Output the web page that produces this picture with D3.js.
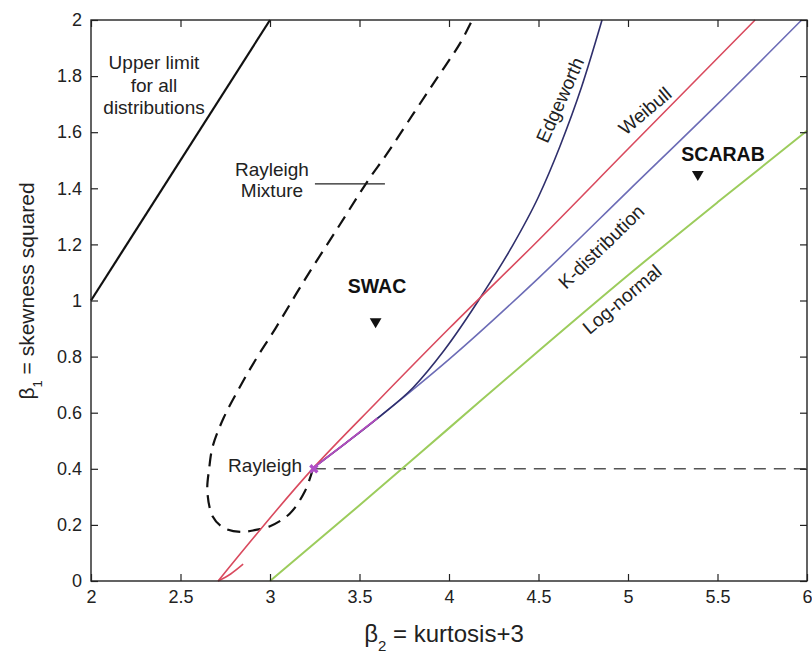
<!DOCTYPE html>
<html>
<head>
<meta charset="utf-8">
<script src="https://cdn.jsdelivr.net/npm/d3@7"></script>
<style>
  html, body { margin: 0; padding: 0; background: #fff; }
  svg { display: block; font-family: "Liberation Sans", Arial, Helvetica, sans-serif; }
</style>
</head>
<body>
<svg id="chart" width="812" height="654"></svg>
<script>
// beta2 (kurtosis+3), beta1 (skewness squared) pairs
const upperLimit = [[2, 1], [3, 2]];
const weibull = [[2.71, 0], [3.245, 0.405], [3.6, 0.64], [4.0, 0.9], [4.5, 1.215], [5.0, 1.54], [5.71, 2.0]];
const weibullLower = [[2.71, 0], [2.78, 0.025], [2.85, 0.06]];
const kDistribution = [[3.245, 0.405], [3.6, 0.58], [4.0, 0.79], [4.5, 1.08], [5.0, 1.39], [5.5, 1.7], [5.97, 2.0]];
const edgeworth = [[3.245, 0.405], [3.42, 0.49], [3.6, 0.58], [3.8, 0.69], [3.97, 0.82], [4.19, 1.025],
  [4.35, 1.19], [4.5, 1.37], [4.62, 1.55], [4.74, 1.76], [4.855, 2.0]];
const sharedStart = [[3.245, 0.405], [3.42, 0.49], [3.6, 0.58]];
const logNormal = [[3, 0], [3.5, 0.27], [4, 0.545], [4.5, 0.82], [5, 1.09], [5.5, 1.35], [6, 1.605]];
const rayleighMixture = [[3.24, 0.4], [3.195, 0.32], [3.11, 0.24], [3.0, 0.195], [2.92, 0.182], [2.84, 0.175],
  [2.74, 0.19], [2.68, 0.23], [2.65, 0.32], [2.66, 0.4], [2.68, 0.48], [2.74, 0.58], [2.83, 0.69], [2.93, 0.8],
  [3.03, 0.9], [3.2, 1.08], [3.38, 1.26], [3.55, 1.43], [3.65, 1.52], [3.8, 1.665], [3.93, 1.79], [4.06, 1.915], [4.13, 2.0]];
const rayleighLevel = [[3.245, 0.4], [6, 0.4]];
const rayleighPoint = [3.245, 0.4];
const measurements = [
  { name: "SWAC", b2: 3.59, b1: 0.925, lb2: 3.598, lb1: 1.025 },
  { name: "SCARAB", b2: 5.39, b1: 1.45, lb2: 5.531, lb1: 1.498 },
];
const xTicks = [2, 2.5, 3, 3.5, 4, 4.5, 5, 5.5, 6];
const yTicks = [0, 0.2, 0.4, 0.6, 0.8, 1, 1.2, 1.4, 1.6, 1.8, 2];

// curve labels: centre position in data units and rotation
const curveLabels = [
  { text: "Edgeworth", b2: 4.62, b1: 1.715, angle: -66 },
  { text: "Weibull", b2: 5.095, b1: 1.676, angle: -40 },
  { text: "K-distribution", b2: 4.85, b1: 1.192, angle: -44 },
  { text: "Log-normal", b2: 4.966, b1: 1.004, angle: -40 },
];

const W = 812, H = 654;
const margin = { top: 20, right: 5, bottom: 73, left: 91 };
const labelSize = "19px";

const svg = d3.select("#chart");
const x = d3.scaleLinear().domain([2, 6]).range([margin.left, W - margin.right]);
const y = d3.scaleLinear().domain([0, 2]).range([H - margin.bottom, margin.top]);
const fmt = (d) => String(+d.toFixed(1));

const line = d3.line().x((d) => x(d[0])).y((d) => y(d[1]));
const smooth = d3.line().x((d) => x(d[0])).y((d) => y(d[1])).curve(d3.curveMonotoneX);
const loop = d3.line().x((d) => x(d[0])).y((d) => y(d[1])).curve(d3.curveCatmullRom.alpha(0.5));

const plot = svg.append("g");

// Curves
plot.append("path").datum(upperLimit).attr("d", line)
  .attr("fill", "none").attr("stroke", "#111").attr("stroke-width", 2.2);

plot.append("path").datum(rayleighMixture).attr("d", loop)
  .attr("fill", "none").attr("stroke", "#111").attr("stroke-width", 2.2)
  .attr("stroke-dasharray", "13,8");

plot.append("path").datum(rayleighLevel).attr("d", line)
  .attr("fill", "none").attr("stroke", "#555").attr("stroke-width", 1.4)
  .attr("stroke-dasharray", "12,8");

plot.append("path").datum(logNormal).attr("d", smooth)
  .attr("fill", "none").attr("stroke", "#9ccc5c").attr("stroke-width", 2);

plot.append("path").datum(kDistribution).attr("d", smooth)
  .attr("fill", "none").attr("stroke", "#6c6cb6").attr("stroke-width", 1.6);

plot.append("path").datum(edgeworth).attr("d", smooth)
  .attr("fill", "none").attr("stroke", "#2f2f6c").attr("stroke-width", 1.6);

plot.append("path").datum(weibull).attr("d", smooth)
  .attr("fill", "none").attr("stroke", "#d94a5e").attr("stroke-width", 1.6);

plot.append("path").datum(weibullLower).attr("d", smooth)
  .attr("fill", "none").attr("stroke", "#d94a5e").attr("stroke-width", 1.6);

plot.append("path").datum(sharedStart).attr("d", smooth)
  .attr("fill", "none").attr("stroke", "#b24cbc").attr("stroke-width", 1.8);

// Rayleigh marker
plot.append("path")
  .attr("d", d3.symbol(d3.symbolCross, 55)())
  .attr("transform", `translate(${x(rayleighPoint[0])},${y(rayleighPoint[1])}) rotate(45)`)
  .attr("fill", "#b050c8");

// Measurement markers
measurements.forEach((m) => {
  plot.append("path")
    .attr("d", d3.symbol(d3.symbolTriangle, 60)())
    .attr("transform", `translate(${x(m.b2)},${y(m.b1)}) rotate(180)`)
    .attr("fill", "#111");
  plot.append("text")
    .attr("x", x(m.lb2)).attr("y", y(m.lb1))
    .attr("text-anchor", "middle")
    .attr("font-size", "19.5px").attr("font-weight", "bold").attr("fill", "#111")
    .text(m.name);
});

// Curve labels
curveLabels.forEach((c) => {
  plot.append("text")
    .attr("transform", `translate(${x(c.b2)},${y(c.b1)}) rotate(${c.angle})`)
    .attr("text-anchor", "middle").attr("dy", "0.35em")
    .attr("font-size", labelSize).attr("fill", "#222")
    .text(c.text);
});

// Upper limit annotation
const upper = plot.append("text").attr("text-anchor", "middle")
  .attr("font-size", labelSize).attr("fill", "#222");
[["Upper limit", 1.826], ["for all", 1.744], ["distributions", 1.665]].forEach(([t, b1]) => {
  upper.append("tspan").attr("x", x(2.352)).attr("y", y(b1)).text(t);
});

// Rayleigh mixture annotation
const mix = plot.append("text").attr("text-anchor", "middle")
  .attr("font-size", labelSize).attr("fill", "#222");
[["Rayleigh", 1.445], ["Mixture", 1.37]].forEach(([t, b1]) => {
  mix.append("tspan").attr("x", x(3.011)).attr("y", y(b1)).text(t);
});
plot.append("line")
  .attr("x1", x(3.251)).attr("x2", x(3.642))
  .attr("y1", y(1.416)).attr("y2", y(1.416))
  .attr("stroke", "#222").attr("stroke-width", 1.2);

plot.append("text")
  .attr("x", x(3.179)).attr("y", y(0.388))
  .attr("text-anchor", "end")
  .attr("font-size", labelSize).attr("fill", "#222")
  .text("Rayleigh");

// Axes (ticks inward on all four sides)
const axes = svg.append("g");

const xAxis = d3.axisBottom(x).tickValues(xTicks).tickFormat(fmt).tickSizeInner(-7).tickSizeOuter(0).tickPadding(9);
const yAxis = d3.axisLeft(y).tickValues(yTicks).tickFormat(fmt).tickSizeInner(-7).tickSizeOuter(0).tickPadding(9);

axes.append("g").attr("transform", `translate(0,${y(0)})`).call(xAxis);
axes.append("g").attr("transform", `translate(${x(2)},0)`).call(yAxis);
axes.append("g").attr("transform", `translate(0,${y(2)})`)
  .call(d3.axisTop(x).tickValues(xTicks).tickFormat("").tickSizeInner(-7).tickSizeOuter(0));
axes.append("g").attr("transform", `translate(${x(6)},0)`)
  .call(d3.axisRight(y).tickValues(yTicks).tickFormat("").tickSizeInner(-7).tickSizeOuter(0));

axes.selectAll("g")
  .attr("font-size", 18)
  .attr("font-family", "'Liberation Sans', Arial, sans-serif");
axes.selectAll("text").attr("fill", "#222");
axes.selectAll("line").attr("stroke", "#222").attr("stroke-width", 1.2);
axes.selectAll(".domain").remove();

svg.append("rect")
  .attr("x", x(2)).attr("y", y(2))
  .attr("width", x(6) - x(2)).attr("height", y(0) - y(2))
  .attr("fill", "none").attr("stroke", "#222").attr("stroke-width", 1.4);

// Axis titles
const xt = svg.append("text")
  .attr("x", 444).attr("y", 642)
  .attr("text-anchor", "middle").attr("font-size", "24px").attr("fill", "#222");
xt.append("tspan").text("β");
xt.append("tspan").attr("baseline-shift", "sub").attr("font-size", "15px").text("2");
xt.append("tspan").text(" = kurtosis+3");

const yt = svg.append("text")
  .attr("transform", "translate(34,291) rotate(-90)")
  .attr("text-anchor", "middle").attr("font-size", "21px").attr("fill", "#222");
yt.append("tspan").text("β");
yt.append("tspan").attr("baseline-shift", "sub").attr("font-size", "13px").text("1");
yt.append("tspan").text(" = skewness squared");
</script>
</body>
</html>
